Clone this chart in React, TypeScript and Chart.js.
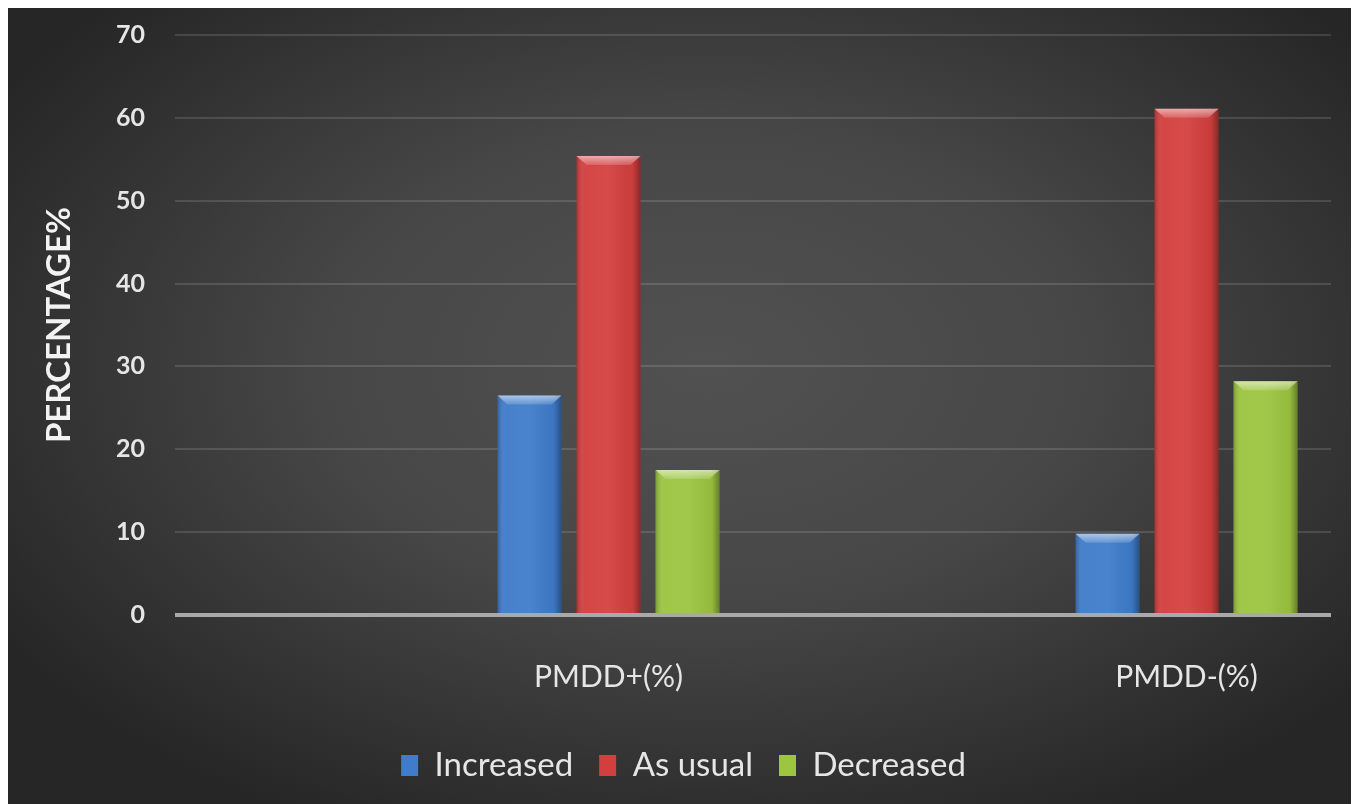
import { useEffect, useRef } from "react";
import { Chart, registerables } from "chart.js";

Chart.register(...registerables);

// Blank categories sit between the two groups so each group lands on the right half of its slot.
const categories = ["", "PMDD+(%)", "", "PMDD-(%)"];
const increased = [null, 26.5, null, 9.8];
const asUsual = [null, 55.4, null, 61.1];
const decreased = [null, 17.5, null, 28.2];
const seriesNames = ["Increased", "As usual", "Decreased"];
const seriesColors = ["#3f7cca", "#d33f3f", "#9cc540"];
const yTicks = [0, 10, 20, 30, 40, 50, 60, 70];

const FONT = "Lato, 'Open Sans', sans-serif";
const TEXT = "#e6e6e6";

// Dark radial backdrop behind the whole chart
const backdrop = {
  id: "backdrop",
  beforeDraw(chart: any) {
    const { ctx, width, height } = chart;
    ctx.save();
    ctx.fillStyle = "#272727";
    ctx.fillRect(0, 0, width, height);
    const cx = width * 0.52;
    const cy = height * 0.45;
    ctx.translate(cx, cy);
    ctx.scale(1, 0.62);
    const r = width * 0.62;
    const g = ctx.createRadialGradient(0, 0, 0, 0, 0, r);
    g.addColorStop(0, "#515151");
    g.addColorStop(0.45, "#474747");
    g.addColorStop(1, "rgba(38,38,38,1)");
    ctx.fillStyle = g;
    ctx.fillRect(-cx - 10, -cy / 0.62 - 10, width + 20, height / 0.62 + 20);
    ctx.restore();
  },
};

// Centre the legend row without its trailing item padding
const legendNudge = {
  id: "legendNudge",
  afterLayout(chart: any) {
    if (chart.legend) {
      chart.legend.left += 14;
      chart.legend.right += 14;
    }
  },
};

// Bevelled, glossy look for every bar
const bevel = {
  id: "bevel",
  afterDatasetsDraw(chart: any) {
    const { ctx } = chart;
    chart.data.datasets.forEach((_: any, di: number) => {
      const meta = chart.getDatasetMeta(di);
      meta.data.forEach((bar: any) => {
        const { x, y, base, width } = bar.getProps(["x", "y", "base", "width"], true);
        if (!isFinite(y) || Math.abs(base - y) < 1) return;
        const l = x - width / 2;
        const r = x + width / 2;
        ctx.save();
        // side shading
        const side = ctx.createLinearGradient(l, 0, r, 0);
        side.addColorStop(0, "rgba(0,0,0,0.22)");
        side.addColorStop(0.12, "rgba(255,255,255,0.04)");
        side.addColorStop(0.5, "rgba(255,255,255,0.06)");
        side.addColorStop(0.88, "rgba(0,0,0,0.05)");
        side.addColorStop(1, "rgba(0,0,0,0.35)");
        ctx.fillStyle = side;
        ctx.fillRect(l, y, width, base - y);
        // top bevel
        const bh = 9;
        const inset = 10;
        const top = ctx.createLinearGradient(0, y, 0, y + bh);
        top.addColorStop(0, "rgba(255,255,255,0.55)");
        top.addColorStop(1, "rgba(255,255,255,0.15)");
        ctx.fillStyle = top;
        ctx.beginPath();
        ctx.moveTo(l, y);
        ctx.lineTo(r, y);
        ctx.lineTo(r - inset, y + bh);
        ctx.lineTo(l + inset, y + bh);
        ctx.closePath();
        ctx.fill();
        ctx.restore();
      });
    });
  },
};

export default function App() {
  const ref = useRef<HTMLCanvasElement | null>(null);

  useEffect(() => {
    if (!ref.current) return;
    const values = [increased, asUsual, decreased];
    const chart = new Chart(ref.current, {
      type: "bar",
      data: {
        labels: categories,
        datasets: seriesNames.map((name, i) => ({
          label: name,
          data: values[i],
          backgroundColor: seriesColors[i],
          borderWidth: 0,
          categoryPercentage: 0.82,
          barPercentage: 0.81,
        })),
      },
      options: {
        animation: false,
        responsive: false,
        maintainAspectRatio: false,
        layout: { padding: { top: 29, right: 21, bottom: 12, left: 0 } },
        plugins: {
          tooltip: { enabled: false },
          legend: {
            position: "bottom",
            labels: {
              color: TEXT,
              font: { family: FONT, size: 33 },
              boxWidth: 17,
              boxHeight: 21,
              padding: 26,
            },
          },
        },
        scales: {
          x: {
            grid: { display: false, drawTicks: false },
            border: { display: false },
            ticks: {
              color: TEXT,
              font: { family: FONT, size: 30 },
              padding: 44,
              autoSkip: false,
              maxRotation: 0,
            },
            afterFit: (s: any) => {
              s.height = 108;
              s.paddingLeft = 0;
              s.paddingRight = 0;
            },
          },
          y: {
            min: 0,
            max: 70,
            afterBuildTicks: (s: any) => {
              s.ticks = yTicks.map((v) => ({ value: v }));
            },
            grid: {
              drawTicks: false,
              color: (c: any) => (c.tick && c.tick.value === 0 ? "#a9a9a9" : "rgba(255,255,255,0.13)"),
              lineWidth: (c: any) => (c.tick && c.tick.value === 0 ? 4 : 2),
            },
            border: { display: false },
            ticks: {
              color: TEXT,
              font: { family: FONT, size: 25, weight: "bold" },
              padding: 30,
            },
            title: {
              display: true,
              text: "PERCENTAGE%",
              color: "#f2f2f2",
              font: { family: FONT, size: 33, weight: "bold" },
              padding: { top: 32, bottom: 0 },
            },
            afterFit: (s: any) => {
              s.width = 167;
              s.paddingTop = 0;
              s.paddingBottom = 0;
            },
          },
        },
      },
      plugins: [backdrop, legendNudge, bevel],
    });
    return () => chart.destroy();
  }, []);

  return (
    <div style={{ marginTop: -2 }}>
      <canvas ref={ref} width={1344} height={798} style={{ display: "block" }} />
    </div>
  );
}
